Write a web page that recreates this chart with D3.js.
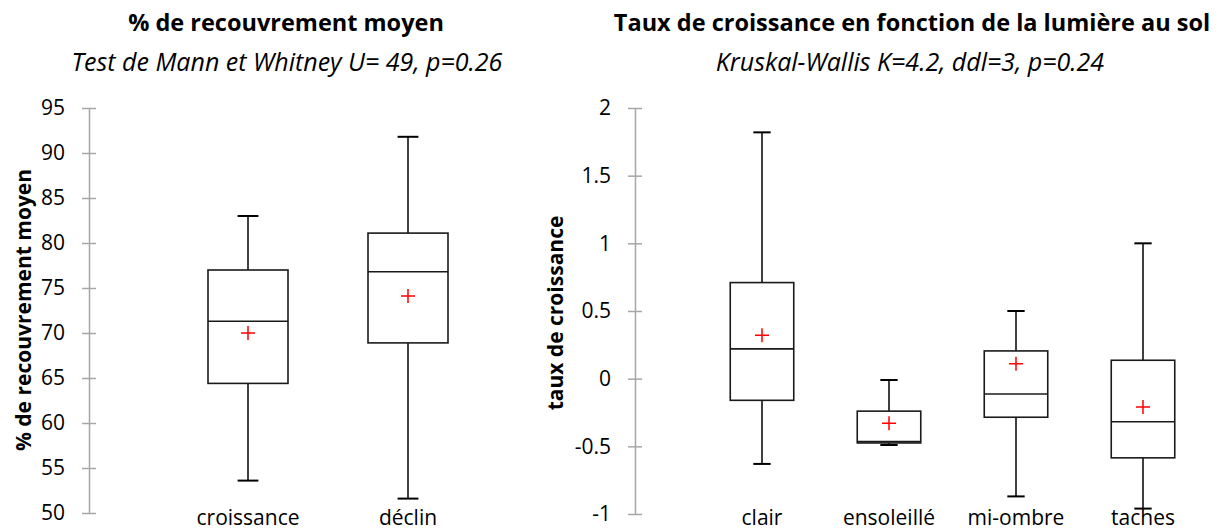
<!DOCTYPE html>
<html>
<head>
<meta charset="utf-8">
<script src="https://cdn.jsdelivr.net/npm/d3@7"></script>
<style>
  html, body { margin: 0; padding: 0; background: #fff; }
  svg { display: block; font-family: "Open Sans", "Noto Sans", sans-serif; }
</style>
</head>
<body>
<svg id="chart" width="1217" height="531"></svg>
<script>
// --- données ---
// graphique de gauche : % de recouvrement moyen
const catGauche = ["croissance", "déclin"];
const minGauche = [53.6, 51.6];
const q1Gauche = [64.4, 68.9];
const medGauche = [71.3, 76.8];
const q3Gauche = [77.0, 81.1];
const maxGauche = [83.0, 91.8];
const moyGauche = [70.0, 74.1];
const ticksGauche = [50, 55, 60, 65, 70, 75, 80, 85, 90, 95];

// graphique de droite : taux de croissance
const catDroite = ["clair", "ensoleillé", "mi-ombre", "taches"];
const minDroite = [-0.63, -0.49, -0.87, -0.96];
const q1Droite = [-0.16, -0.475, -0.285, -0.585];
const medDroite = [0.22, -0.465, -0.113, -0.318];
const q3Droite = [0.71, -0.24, 0.205, 0.136];
const maxDroite = [1.82, -0.01, 0.50, 1.00];
const moyDroite = [0.32, -0.33, 0.11, -0.21];
const ticksDroite = [-1, -0.5, 0, 0.5, 1, 1.5, 2];

const svg = d3.select("#chart");

function boxplot(opt) {
  const g = svg.append("g");
  // échelle des catégories
  const x = d3.scaleBand().domain(opt.cats).range(opt.xRange).paddingInner(0);
  const y = d3.scaleLinear().domain(opt.yDomain).range(opt.yRange);
  const bw = x.bandwidth() * 0.5;
  const cap = bw * 0.21;

  // axe Y gris, graduations qui traversent l'axe
  const axis = d3.axisLeft(y).tickValues(opt.ticks)
    .tickFormat(d => String(d)).tickSizeInner(7).tickSizeOuter(0).tickPadding(17);
  const ax = g.append("g").attr("transform", `translate(${opt.axisX},0)`).call(axis);
  ax.select(".domain").attr("stroke", "#a6a6a6").attr("stroke-width", 1.5);
  ax.selectAll(".tick line").attr("x1", -7).attr("x2", 7)
    .attr("stroke", "#a6a6a6").attr("stroke-width", 1.5);
  ax.selectAll(".tick text").attr("font-size", 21).attr("fill", "#000")
    .attr("font-family", "Open Sans");

  const rows = opt.cats.map((c, i) => ({
    c, min: opt.min[i], q1: opt.q1[i], med: opt.med[i], q3: opt.q3[i], max: opt.max[i], moy: opt.moy[i]
  }));
  const b = g.selectAll(".box").data(rows).join("g").attr("class", "box");
  const cx = d => x(d.c) + x.bandwidth() / 2;

  // moustaches
  b.append("line").attr("x1", cx).attr("x2", cx)
    .attr("y1", d => y(d.max)).attr("y2", d => y(d.q3))
    .attr("stroke", "#000").attr("stroke-width", 1.5);
  b.append("line").attr("x1", cx).attr("x2", cx)
    .attr("y1", d => y(d.q1)).attr("y2", d => y(d.min))
    .attr("stroke", "#000").attr("stroke-width", 1.5);
  b.append("line").attr("x1", d => cx(d) - cap / 2 - 2).attr("x2", d => cx(d) + cap / 2 + 2)
    .attr("y1", d => y(d.max)).attr("y2", d => y(d.max))
    .attr("stroke", "#000").attr("stroke-width", 2);
  b.append("line").attr("x1", d => cx(d) - cap / 2 - 2).attr("x2", d => cx(d) + cap / 2 + 2)
    .attr("y1", d => y(d.min)).attr("y2", d => y(d.min))
    .attr("stroke", "#000").attr("stroke-width", 2);

  // boîte
  b.append("rect").attr("x", d => cx(d) - bw / 2).attr("width", bw)
    .attr("y", d => y(d.q3)).attr("height", d => y(d.q1) - y(d.q3))
    .attr("fill", "#fff").attr("stroke", "#1a1a1a").attr("stroke-width", 1.6);
  // médiane
  b.append("line").attr("x1", d => cx(d) - bw / 2).attr("x2", d => cx(d) + bw / 2)
    .attr("y1", d => y(d.med)).attr("y2", d => y(d.med))
    .attr("stroke", "#1a1a1a").attr("stroke-width", 1.6);
  // moyenne (croix rouge)
  b.append("path")
    .attr("d", d => `M${cx(d) - 7},${y(d.moy)}H${cx(d) + 7}M${cx(d)},${y(d.moy) - 7}V${y(d.moy) + 7}`)
    .attr("stroke", "#ff0000").attr("stroke-width", 1.5).attr("fill", "none");

  // libellés des catégories
  g.selectAll(".cat").data(opt.cats).join("text")
    .attr("x", d => x(d) + x.bandwidth() / 2).attr("y", opt.catY)
    .attr("text-anchor", "middle").attr("font-size", 21).text(d => d);

  // titre d'axe
  g.append("text")
    .attr("transform", `translate(${opt.yTitleX},${opt.yTitleY}) rotate(-90)`)
    .attr("text-anchor", "middle").attr("font-size", 21).attr("font-weight", "bold")
    .text(opt.yTitle);

  // titres
  g.append("text").attr("x", opt.titleX).attr("y", 31).attr("text-anchor", "middle")
    .attr("font-size", 23.5).attr("font-weight", "bold").text(opt.title);
  g.append("text").attr("x", opt.subX).attr("y", 71).attr("text-anchor", "middle")
    .attr("font-size", 25).attr("font-style", "italic").text(opt.sub);
}

boxplot({
  cats: catGauche, min: minGauche, q1: q1Gauche, med: medGauche, q3: q3Gauche,
  max: maxGauche, moy: moyGauche, ticks: ticksGauche,
  xRange: [168, 488], yDomain: [50, 95], yRange: [513, 108], axisX: 89,
  catY: 525, yTitleX: 31, yTitleY: 310, yTitle: "% de recouvrement moyen",
  titleX: 286, title: "% de recouvrement moyen",
  subX: 287, sub: "Test de Mann et Whitney U= 49, p=0.26"
});

boxplot({
  cats: catDroite, min: minDroite, q1: q1Droite, med: medDroite, q3: q3Droite,
  max: maxDroite, moy: moyDroite, ticks: ticksDroite,
  xRange: [698.5, 1206.5], yDomain: [-1, 2], yRange: [514, 108], axisX: 635,
  catY: 525, yTitleX: 563, yTitleY: 313, yTitle: "taux de croissance",
  titleX: 912, title: "Taux de croissance en fonction de la lumière au sol",
  subX: 910, sub: "Kruskal-Wallis K=4.2, ddl=3, p=0.24"
});
</script>
</body>
</html>
